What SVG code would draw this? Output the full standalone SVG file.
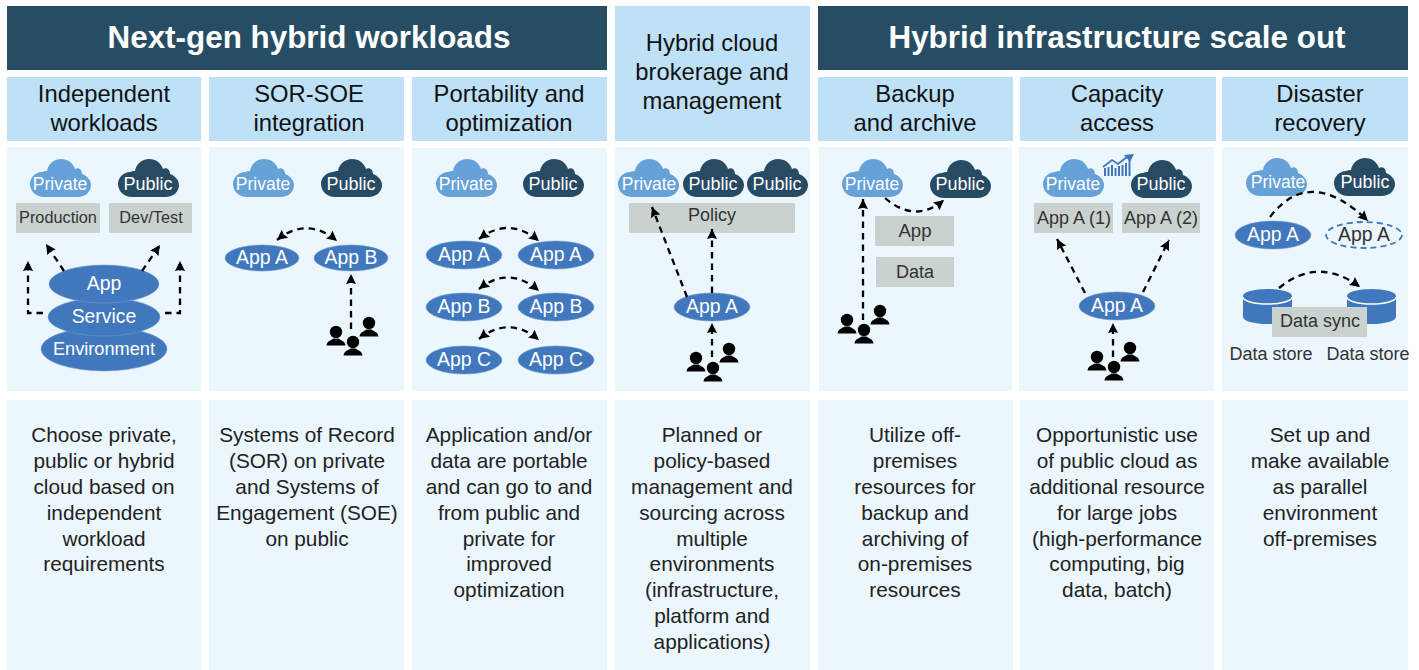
<svg xmlns="http://www.w3.org/2000/svg" width="1419" height="670" viewBox="0 0 1419 670">
<style>
text{font-family:"Liberation Sans",Arial,sans-serif;text-anchor:middle}
.dark{fill:#264d63}.head{fill:#bee1f7}.panel{fill:#ebf6fd}.grey{fill:#c9d2cf}
.title{font-size:31.4px;font-weight:bold;fill:#fff}
.h{font-size:23.8px;fill:#111}
.d{font-size:20.8px;fill:#222}
.c{font-size:17.5px;fill:#fff}
.cp{font-size:18px;fill:#fff}
.a{font-size:19.4px;fill:#fff}
.g{font-size:16.3px;fill:#333}
.g2{font-size:18px;fill:#333}
.e{fill:#4178bd;stroke:#6f9bd1;stroke-width:.6}
.priv{fill:#66a1d8}.pub{fill:#264b63}
.conn path{fill:none;stroke:#000;stroke-width:2.3;stroke-dasharray:6.5 5;marker-end:url(#arr)}
.conn path.both{marker-start:url(#arr)}
.cyl{fill:#4178bd}
</style>
<defs>
<marker id="arr" markerUnits="userSpaceOnUse" markerWidth="11" markerHeight="11" refX="11" refY="6" orient="auto-start-reverse" viewBox="0 0 12 12"><path d="M0 .5L11 6L0 11.500L1.500 6Z" fill="#000"/></marker>
<path id="cloud" d="M14 38C6 38 0 32 0 25C0 18 6 13 12 13C14 12 15 12 17 12C18 5 24 0 31 0C38 0 43 4 45 10C48 8 52 10 52 15C57 17 61 21 61 26C61 33 55 38 48 38Z"/>
<g id="person"><circle cx="0" cy="0" r="6.200"/><path d="M-9.500 13.500C-9 9-5 8.500-2.500 6.500H2.500C5 8.500 9 9 9.500 13.500Z"/></g>
<g id="people"><use href="#person" x="0" y="0"/><use href="#person" x="17" y="10"/><use href="#person" x="33" y="-9"/></g>
<g id="cyl"><path class="cyl" d="M0 7A24.500 7 0 0 1 49 7V28A24.500 7 0 0 1 0 28Z"/><path d="M0 8A24.500 7 0 0 0 49 8" fill="none" stroke="#fff" stroke-width="1.500"/></g>
</defs>
<rect width="1419" height="670" fill="#fff"/>

<g id="banners">
<rect class="dark" x="7" y="6" width="600" height="64"/>
<text class="title" x="309" y="48">Next-gen hybrid workloads</text>
<rect class="head" x="615" y="6" width="195" height="135"/>
<text class="h" x="712" y="51">Hybrid cloud</text><text class="h" x="712" y="80">brokerage and</text><text class="h" x="712" y="109">management</text>
<rect class="dark" x="818" y="6" width="590" height="64"/>
<text class="title" x="1117" y="48">Hybrid infrastructure scale out</text>
</g>

<g id="col1">
<rect class="head" x="7" y="77" width="194" height="64"/><text class="h" x="104" y="102">Independent</text><text class="h" x="104" y="131">workloads</text>
<rect class="panel" x="7" y="147" width="194" height="244"/>
<rect class="panel" x="7" y="400" width="194" height="270"/>
<g class="d"><text x="104" y="442">Choose private,</text><text x="104" y="468">public or hybrid</text><text x="104" y="494">cloud based on</text><text x="104" y="520">independent</text><text x="104" y="546">workload</text><text x="104" y="571">requirements</text></g>
<use href="#cloud" class="priv" x="30" y="159"/><text class="c" x="60" y="190">Private</text>
<use href="#cloud" class="pub" x="118" y="159"/><text class="cp" x="148" y="190">Public</text>
<rect class="grey" x="16" y="203" width="84" height="30"/><text class="g" x="58" y="223">Production</text>
<rect class="grey" x="109" y="203" width="83" height="30"/><text class="g" x="151" y="223">Dev/Test</text>
<ellipse class="e" cx="104" cy="349" rx="63" ry="22"/><text class="a" style="font-size:18.200px" x="104" y="355">Environment</text>
<ellipse class="e" cx="104" cy="317" rx="56" ry="19"/><text class="a" x="104" y="323">Service</text>
<ellipse class="e" cx="104" cy="284" rx="55" ry="19"/><text class="a" x="104" y="290">App</text>
</g>

<g id="col2">
<rect class="head" x="209" y="77" width="195" height="64"/><text class="h" x="309" y="102">SOR-SOE</text><text class="h" x="309" y="131">integration</text>
<rect class="panel" x="209" y="147" width="195" height="244"/>
<rect class="panel" x="209" y="400" width="195" height="270"/>
<g class="d"><text x="307" y="442">Systems of Record</text><text x="307" y="468">(SOR) on private</text><text x="307" y="494">and Systems of</text><text x="307" y="520">Engagement (SOE)</text><text x="307" y="546">on public</text></g>
<use href="#cloud" class="priv" x="233" y="159"/><text class="c" x="263" y="190">Private</text>
<use href="#cloud" class="pub" x="321" y="159"/><text class="cp" x="351" y="190">Public</text>
<ellipse class="e" cx="262" cy="258" rx="37" ry="13"/><text class="a" x="262" y="264">App A</text>
<ellipse class="e" cx="351" cy="258" rx="37" ry="13"/><text class="a" x="351" y="264">App B</text>
<use href="#people" x="336" y="332"/>
</g>

<g id="col3">
<rect class="head" x="412" y="77" width="195" height="64"/><text class="h" x="509" y="102">Portability and</text><text class="h" x="509" y="131">optimization</text>
<rect class="panel" x="412" y="148" width="195" height="243"/>
<rect class="panel" x="412" y="400" width="195" height="270"/>
<g class="d"><text x="509" y="442">Application and/or</text><text x="509" y="468">data are portable</text><text x="509" y="494">and can go to and</text><text x="509" y="520">from public and</text><text x="509" y="546">private for</text><text x="509" y="571">improved</text><text x="509" y="597">optimization</text></g>
<use href="#cloud" class="priv" x="436" y="159"/><text class="c" x="466" y="190">Private</text>
<use href="#cloud" class="pub" x="523" y="159"/><text class="cp" x="553" y="190">Public</text>
<ellipse class="e" cx="464" cy="255" rx="38" ry="14"/><text class="a" x="464" y="261">App A</text>
<ellipse class="e" cx="556" cy="255" rx="38" ry="14"/><text class="a" x="556" y="261">App A</text>
<ellipse class="e" cx="464" cy="307" rx="38" ry="14"/><text class="a" x="464" y="313">App B</text>
<ellipse class="e" cx="556" cy="307" rx="38" ry="14"/><text class="a" x="556" y="313">App B</text>
<ellipse class="e" cx="464" cy="360" rx="38" ry="14"/><text class="a" x="464" y="366">App C</text>
<ellipse class="e" cx="556" cy="360" rx="38" ry="14"/><text class="a" x="556" y="366">App C</text>
</g>

<g id="col4">
<rect class="panel" x="615" y="147" width="195" height="244"/>
<rect class="panel" x="615" y="400" width="195" height="270"/>
<g class="d"><text x="712" y="442">Planned or</text><text x="712" y="468">policy-based</text><text x="712" y="494">management and</text><text x="712" y="520">sourcing across</text><text x="712" y="546">multiple</text><text x="712" y="571">environments</text><text x="712" y="597">(infrastructure,</text><text x="712" y="623">platform and</text><text x="712" y="649">applications)</text></g>
<use href="#cloud" class="priv" x="618" y="159"/><text class="c" x="649" y="190">Private</text>
<use href="#cloud" class="pub" x="683" y="159"/><text class="cp" x="713" y="190">Public</text>
<use href="#cloud" class="pub" x="747" y="159"/><text class="cp" x="777" y="190">Public</text>
<rect class="grey" x="629" y="203" width="166" height="30"/><text class="g2" x="712" y="221">Policy</text>
<ellipse class="e" cx="712" cy="307" rx="38" ry="14"/><text class="a" x="712" y="313">App A</text>
<use href="#people" x="696" y="358"/>
</g>

<g id="col5">
<rect class="head" x="818" y="77" width="195" height="64"/><text class="h" x="915" y="102">Backup</text><text class="h" x="915" y="131">and archive</text>
<rect class="panel" x="819" y="147" width="193" height="244"/>
<rect class="panel" x="818" y="400" width="195" height="270"/>
<g class="d"><text x="915" y="442">Utilize off-</text><text x="915" y="468">premises</text><text x="915" y="494">resources for</text><text x="915" y="520">backup and</text><text x="915" y="546">archiving of</text><text x="915" y="571">on-premises</text><text x="915" y="597">resources</text></g>
<use href="#cloud" class="priv" x="842" y="159"/><text class="c" x="872" y="190">Private</text>
<use href="#cloud" class="pub" x="930" y="160"/><text class="cp" x="960" y="190">Public</text>
<rect class="grey" x="875" y="216" width="79" height="30"/><text class="g2" style="font-size:18.600px" x="915" y="237">App</text>
<rect class="grey" x="876" y="257" width="78" height="30"/><text class="g2" x="915" y="278">Data</text>
<use href="#people" x="847" y="320"/>
</g>

<g id="col6">
<rect class="head" x="1020" y="77" width="196" height="64"/><text class="h" x="1117" y="102">Capacity</text><text class="h" x="1117" y="131">access</text>
<rect class="panel" x="1019" y="147" width="195" height="244"/>
<rect class="panel" x="1020" y="400" width="194" height="270"/>
<g class="d"><text x="1117" y="442">Opportunistic use</text><text x="1117" y="468">of public cloud as</text><text x="1117" y="494">additional resource</text><text x="1117" y="520">for large jobs</text><text x="1117" y="546">(high-performance</text><text x="1117" y="571">computing, big</text><text x="1117" y="597">data, batch)</text></g>
<use href="#cloud" class="priv" x="1043" y="159"/><text class="c" x="1073" y="190">Private</text>
<use href="#cloud" class="pub" x="1131" y="160"/><text class="cp" x="1161" y="190">Public</text>
<g id="chart" fill="#4178bd"><rect x="1104" y="168" width="2" height="8"/><rect x="1107.500" y="167" width="2" height="9"/><rect x="1111" y="165" width="2" height="11"/><rect x="1114.500" y="168" width="2" height="8"/><rect x="1118" y="166" width="2" height="10"/><rect x="1121.500" y="165" width="2" height="11"/><rect x="1125" y="163" width="2" height="13"/><rect x="1128.500" y="160" width="2" height="16"/><path d="M1103 167L1112 160L1118 164L1127 157" fill="none" stroke="#4178bd" stroke-width="1.800"/><path d="M1124 155L1134 154L1130 162Z"/></g>
<rect class="grey" x="1034" y="203" width="79" height="30"/><text class="g2" x="1074" y="224">App A (1)</text>
<rect class="grey" x="1122" y="203" width="78" height="30"/><text class="g2" x="1161" y="224">App A (2)</text>
<ellipse class="e" cx="1117" cy="306" rx="38" ry="14"/><text class="a" x="1117" y="312">App A</text>
<use href="#people" x="1097" y="357"/>
</g>

<g id="col7">
<rect class="head" x="1222" y="77" width="186" height="64"/><text class="h" x="1320" y="102">Disaster</text><text class="h" x="1320" y="131">recovery</text>
<rect class="panel" x="1222" y="147" width="186" height="244"/>
<rect class="panel" x="1222" y="400" width="186" height="270"/>
<g class="d"><text x="1320" y="442">Set up and</text><text x="1320" y="468">make available</text><text x="1320" y="494">as parallel</text><text x="1320" y="520">environment</text><text x="1320" y="546">off-premises</text></g>
<use href="#cloud" class="priv" x="1246" y="158"/><text class="c" x="1278" y="188">Private</text>
<use href="#cloud" class="pub" x="1334" y="158"/><text class="cp" x="1365" y="188">Public</text>
<ellipse class="e" cx="1273" cy="235" rx="38" ry="14"/><text class="a" x="1273" y="241">App A</text>
<ellipse cx="1364" cy="235" rx="38" ry="13" fill="none" stroke="#4178bd" stroke-width="1.800" stroke-dasharray="6 4"/><text class="g2" style="font-size:19.400px" x="1364" y="241">App A</text>
<use href="#cyl" x="1243" y="289"/>
<use href="#cyl" x="1347" y="289"/>
<rect class="grey" x="1272" y="307" width="95" height="30"/><text class="g2" x="1320" y="327">Data sync</text>
<text class="g2" x="1271" y="360">Data store</text><text class="g2" x="1368" y="360">Data store</text>
</g>

<g id="connectors" class="conn">
<path d="M43 313H28V261"/>
<path d="M165 313H180V261"/>
<path d="M64 271L46 244"/>
<path d="M142 271L160 245"/>
<path class="both" d="M277 240Q307 216 337 241"/>
<path d="M351 329V274"/>
<path class="both" d="M479 239Q509 216 539 241"/>
<path class="both" d="M479 289Q509 265 539 291"/>
<path class="both" d="M479 339Q509 315 539 340"/>
<path d="M687 297L652 207"/>
<path d="M712 293V229"/>
<path d="M712 357V323"/>
<path d="M863 320V199"/>
<path d="M885 198Q915 224 944 200"/>
<path d="M1085 293L1057 239"/>
<path d="M1143 292L1169 240"/>
<path d="M1113 357V323"/>
<path d="M1270 217Q1310 165 1368 221"/>
<path d="M1279 288Q1318 256 1360 287"/>
</g>
</svg>
